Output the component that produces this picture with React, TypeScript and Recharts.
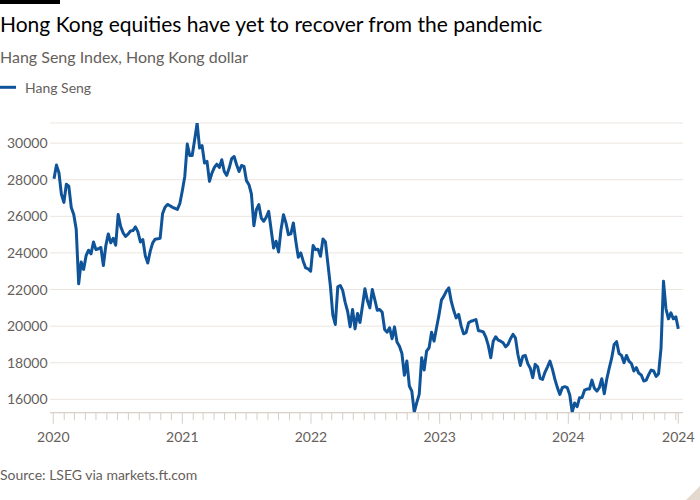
import { CartesianGrid, Line, LineChart, XAxis, YAxis } from 'recharts';

// weekly closes (Fridays)
const START = Date.UTC(2020, 0, 3);
const WEEK = 7 * 24 * 3600 * 1000;
const DOMAIN_START = Date.UTC(2020, 0, 1);
const DOMAIN_END = Date.UTC(2024, 10, 8);

const hs2020 = [
  28050, 28800, 28380, 27200, 26760, 27750, 27650, 26480, 26100, 25300,
  22310, 23500, 23100, 23850, 24150, 23950, 24600, 24180, 24230, 24300,
  23310, 24400, 25040, 24550, 24800, 24420, 26100, 25450, 25100, 24900,
  25030, 25200, 25220, 25420, 25150, 24600, 24730, 23850, 23450, 24100,
  24550, 24750, 24770, 24800, 26150, 26500, 26650, 26580, 26490, 26440,
  26380, 26700,
];
const hs2021 = [
  27400, 28180, 29950, 29330, 29330, 30180, 31090, 29730, 29870, 28910,
  29000, 27910, 28360, 28670, 28850, 28670, 29090, 28450, 28240, 28640,
  29150, 29270, 28820, 28450, 28780, 28730, 27950, 27730, 27220, 25490,
  26360, 26640, 25910, 25730, 25950, 26270, 25270, 24270, 24640, 24050,
  25270, 26090, 25640, 25000, 25040, 25640, 24640, 23760, 24000, 23550,
  23180, 23130, 23000,
];
const hs2022 = [
  24400, 24180, 24200, 23820, 24760, 24600, 23400, 22200, 20600, 20090,
  22150, 22220, 21950, 21300, 20800, 19960, 20910, 19850, 20690, 20200,
  21100, 22040, 21400, 21000, 22000, 21450, 20870, 20910, 20760, 19820,
  19670, 19910, 19310, 19960, 19130, 18900, 18500, 17310, 18090, 16730,
  16450, 15300, 15820, 16270, 18270, 17600, 18640, 18820, 19670, 19180,
  19900, 20600,
];
const hs2023 = [
  21420, 21640, 21910, 22090, 21350, 20850, 20450, 20640, 20000, 19580,
  19640, 20180, 20270, 20310, 20360, 19750, 19730, 19680, 19400, 18950,
  18270, 19180, 19420, 19240, 19180, 19090, 18870, 19000, 19310, 19550,
  19360, 18450, 17850, 18360, 18400, 17950, 17700, 17180, 17910, 17780,
  17150, 17090, 17490, 17780, 18090, 17640, 17090, 16640, 16270, 16640,
  16690, 16640,
];
const hs2024 = [
  16250, 15300, 15800, 15600, 16090, 16100, 16500, 16560, 16560, 17050,
  16600, 16450, 16640, 17130, 16300, 17100, 17700, 18250, 19000, 19150,
  18500, 18400, 18000, 18400, 18090, 17960, 17550, 17730, 17420, 17330,
  17000, 17050, 17350, 17600, 17550, 17250, 17400, 18800, 22450, 20950,
  20400, 20730, 20400, 20510, 19850,
];

const yTicks = [16000, 18000, 20000, 22000, 24000, 26000, 28000, 30000];

const FONT = 'Lato, "Noto Sans", sans-serif';
const GREY = '#66605c';
const BLUE = '#0f5499';

const values = [...hs2020, ...hs2021, ...hs2022, ...hs2023, ...hs2024];
const data = values.map((v, i) => ({ t: START + i * WEEK, v }));

// monthly tick marks, labelled at each new year and at the last date
const xTicks: number[] = [];
for (let y = 2020; y <= 2024; y++) {
  for (let m = 0; m < 12; m++) {
    const t = Date.UTC(y, m, 1);
    if (t < DOMAIN_END) xTicks.push(t);
  }
}
xTicks.push(DOMAIN_END);

function XTick(props: any) {
  const { x, y, payload } = props;
  const d = new Date(payload.value);
  const major = (d.getUTCMonth() === 0 && d.getUTCDate() === 1) || payload.value === DOMAIN_END;
  return (
    <g>
      <line x1={x} x2={x} y1={y} y2={y + (major ? 11 : 7.5)} stroke="#d6cdc4" strokeWidth={1} />
      {major && (
        <text x={x} y={y + 29} textAnchor="middle" fill={GREY} fontSize={14} fontFamily={FONT}>
          {d.getUTCFullYear()}
        </text>
      )}
    </g>
  );
}

function YTick(props: any) {
  const { y, payload } = props;
  return (
    <text x={7} y={y + 5} textAnchor="start" fill={GREY} fontSize={14} fontFamily={FONT}>
      {payload.value}
    </text>
  );
}

export default function App() {
  return (
    <div style={{ position: 'absolute', left: 0, top: 0, width: 700, height: 500, background: '#fff' }}>
      <LineChart
        width={700}
        height={500}
        data={data}
        margin={{ top: 123, right: 17, bottom: 0, left: 0 }}
      >
        <CartesianGrid vertical={false} stroke="#ebe5df" />
        <XAxis
          dataKey="t"
          type="number"
          domain={[DOMAIN_START, DOMAIN_END]}
          ticks={xTicks}
          interval={0}
          padding={{ left: 3.3, right: 4.7 }}
          height={87.3}
          tickSize={0}
          tickMargin={0}
          tickLine={false}
          axisLine={{ stroke: '#d6cdc4' }}
          tick={<XTick />}
        />
        <YAxis
          width={50}
          domain={[15270, 31100]}
          ticks={yTicks}
          interval={0}
          allowDataOverflow
          axisLine={false}
          tickLine={false}
          tick={<YTick />}
        />
        <Line
          type="linear"
          dataKey="v"
          stroke={BLUE}
          strokeWidth={3}
          strokeLinejoin="round"
          dot={false}
          isAnimationActive={false}
        />
      </LineChart>
      <svg
        width={700}
        height={500}
        style={{ position: 'absolute', left: 0, top: 0, pointerEvents: 'none' }}
      >
        <rect x={0} y={0} width={60} height={4} fill="#000" />
        <text x={0} y={32.3} fontSize={21} fontFamily={FONT} fill="#000">
          Hong Kong equities have yet to recover from the pandemic
        </text>
        <text x={0} y={63.3} fontSize={16} fontFamily={FONT} fill={GREY}>
          Hang Seng Index, Hong Kong dollar
        </text>
        <line x1={0} x2={16} y1={87.3} y2={87.3} stroke={BLUE} strokeWidth={3} />
        <text x={25} y={93.3} fontSize={14} fontFamily={FONT} fill={GREY}>
          Hang Seng
        </text>
        <text x={0} y={480} fontSize={14} fontFamily={FONT} fill={GREY}>
          Source: LSEG via markets.ft.com
        </text>
        <polygon points="700,486 700,500 686,500" fill="#e3d9cf" />
      </svg>
    </div>
  );
}
